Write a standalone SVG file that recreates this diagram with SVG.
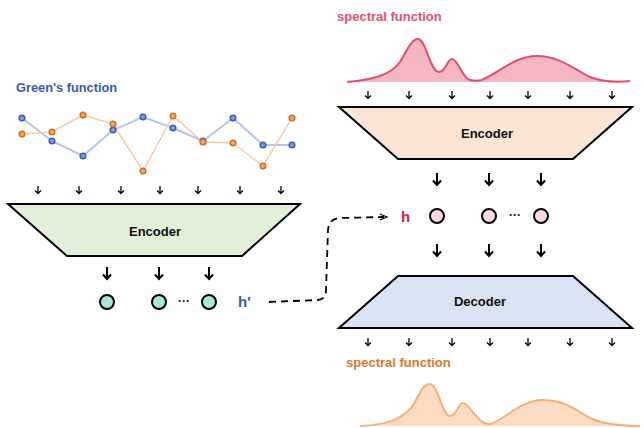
<svg xmlns="http://www.w3.org/2000/svg" width="644" height="428" viewBox="0 0 644 428">
<style>
text{font-family:"Liberation Sans",Arial,sans-serif;font-weight:bold}
.lbl{font-size:13px;fill:#111;text-anchor:middle}
.trap{stroke:#000;stroke-width:2;stroke-linejoin:miter}
.sa{fill:none;stroke:#000;stroke-width:1.3}
.ba{fill:none;stroke:#000;stroke-width:2}
.node{stroke:#000;stroke-width:2}
.bp{fill:#7f9ddc;stroke:#3b5ea8;stroke-width:1.5}
.op{fill:#f0a868;stroke:#d0701f;stroke-width:1.5}
</style>
<defs>
<path id="sa" d="M0,-4V3.5M-3,0.5L0,3.5L3,0.5"/>
<path id="ba" d="M0,-6V6M-4,1.5L0,6L4,1.5"/>
</defs>
<rect width="644" height="428" fill="#fff"/>

<!-- Green's function plot -->
<g id="greens">
<text x="16" y="92" font-size="12.8" fill="#3a5ca8">Green's function</text>
<polyline fill="none" stroke="#b3c6ec" stroke-width="2" points="22,118 52,141 83,156 113,130 143,117 173,128 203,141 233,118 263,145 292,145"/>
<polyline fill="none" stroke="#f8cba4" stroke-width="1.5" points="22,134 52,132 83,115 113,124 143,171 173,116 203,142 233,143 263,166 292,118"/>
<g class="bp">
<circle cx="22" cy="118" r="2.8"/><circle cx="52" cy="141" r="2.8"/><circle cx="83" cy="156" r="2.8"/><circle cx="113" cy="130" r="2.8"/><circle cx="143" cy="117" r="2.8"/><circle cx="173" cy="128" r="2.8"/><circle cx="203" cy="141" r="2.8"/><circle cx="233" cy="118" r="2.8"/><circle cx="263" cy="145" r="2.8"/><circle cx="292" cy="145" r="2.8"/>
</g>
<g class="op">
<circle cx="22" cy="134" r="2.8"/><circle cx="52" cy="132" r="2.8"/><circle cx="83" cy="115" r="2.8"/><circle cx="113" cy="124" r="2.8"/><circle cx="143" cy="171" r="2.8"/><circle cx="173" cy="116" r="2.8"/><circle cx="203" cy="142" r="2.8"/><circle cx="233" cy="143" r="2.8"/><circle cx="263" cy="166" r="2.8"/><circle cx="292" cy="118" r="2.8"/>
</g>
</g>

<!-- Left encoder -->
<g id="encoder-left">
<polygon class="trap" fill="#e2efd9" points="8,204 300,204 242,256 67,256"/>
<text class="lbl" x="155" y="236">Encoder</text>
</g>

<g id="latent-left">
<circle class="node" fill="#a8e6dc" cx="107" cy="302" r="7"/>
<circle class="node" fill="#a8e6dc" cx="159" cy="302" r="7"/>
<circle class="node" fill="#a8e6dc" cx="209" cy="302" r="7"/>
<text x="184" y="305" font-size="12" fill="#111" text-anchor="middle">···</text>
<text x="238" y="307" font-size="15" fill="#3a5ca8">h'</text>
</g>

<!-- Right top spectral function -->
<g id="spectral-top">
<text x="337" y="21" font-size="13" fill="#e8506a">spectral function</text>
<path d="M347,82 C370,80 390,76 400,62 C408,48 412,39 418,39 C426,39 430,72 439,72 C446,72 447,59 452,59 C458,59 462,78 470,80 C474,81 478,81 482,80 C500,72 515,56 537,56 C560,56 575,70 590,77 C605,83 620,82 630,81 L630,82 L347,82 Z" fill="#f4b6c0" stroke="none"/>
<path d="M347,82 C370,80 390,76 400,62 C408,48 412,39 418,39 C426,39 430,72 439,72 C446,72 447,59 452,59 C458,59 462,78 470,80 C474,81 478,81 482,80 C500,72 515,56 537,56 C560,56 575,70 590,77 C605,83 620,82 630,81" fill="none" stroke="#e0506a" stroke-width="2"/>
</g>

<g id="encoder-right">
<polygon class="trap" fill="#fce4d6" points="339,107 632,107 573,159 398,159"/>
<text class="lbl" x="487" y="138">Encoder</text>
</g>

<g id="latent-right">
<text x="401" y="222" font-size="15" fill="#d0223f">h</text>
<circle class="node" fill="#f9d9de" cx="437" cy="216" r="7"/>
<circle class="node" fill="#f9d9de" cx="489" cy="216" r="7"/>
<circle class="node" fill="#f9d9de" cx="541" cy="216" r="7"/>
<text x="515" y="219" font-size="12" fill="#111" text-anchor="middle">···</text>
</g>

<g id="decoder">
<polygon class="trap" fill="#dae3f3" points="398,276 573,276 632,328 339,328"/>
<text class="lbl" x="480" y="306">Decoder</text>
</g>

<g id="spectral-bottom">
<text x="346" y="367" font-size="13" fill="#d9782d">spectral function</text>
<path d="M360,426 C385,425 405,420 415,402 C422,388 425,384 430,384 C438,384 442,416 450,416 C457,416 458,403 463,403 C470,403 476,424 490,424 C505,420 520,400 543,400 C565,400 575,410 590,418 C605,425 625,426 640,426 Z" fill="#fbdcc3" stroke="none"/>
<path d="M360,426 C385,425 405,420 415,402 C422,388 425,384 430,384 C438,384 442,416 450,416 C457,416 458,403 463,403 C470,403 476,424 490,424 C505,420 520,400 543,400 C565,400 575,410 590,418 C605,425 625,426 640,426" fill="none" stroke="#f5b07a" stroke-width="2"/>
</g>

<g id="connectors">
<g class="sa">
<use href="#sa" x="38" y="190"/><use href="#sa" x="79" y="190"/><use href="#sa" x="121" y="190"/><use href="#sa" x="160" y="190"/><use href="#sa" x="198" y="190"/><use href="#sa" x="240" y="190"/><use href="#sa" x="281" y="190"/>
<use href="#sa" x="368" y="95"/><use href="#sa" x="409" y="95"/><use href="#sa" x="452" y="95"/><use href="#sa" x="490" y="95"/><use href="#sa" x="528" y="95"/><use href="#sa" x="570" y="95"/><use href="#sa" x="612" y="95"/>
<use href="#sa" x="368" y="342"/><use href="#sa" x="409" y="342"/><use href="#sa" x="452" y="342"/><use href="#sa" x="490" y="342"/><use href="#sa" x="528" y="342"/><use href="#sa" x="570" y="342"/><use href="#sa" x="612" y="342"/>
</g>
<g class="ba">
<use href="#ba" x="107" y="273"/><use href="#ba" x="159" y="273"/><use href="#ba" x="209" y="273"/>
<use href="#ba" x="437" y="179"/><use href="#ba" x="489" y="179"/><use href="#ba" x="541" y="179"/>
<use href="#ba" x="437" y="250"/><use href="#ba" x="489" y="250"/><use href="#ba" x="541" y="250"/>
</g>
<path d="M269,302 L318,300 Q326,299 326,290 L328,230 Q329,218 341,218 L384,217" fill="none" stroke="#000" stroke-width="1.8" stroke-dasharray="7,5"/>
<path d="M380,214 L387,217 L380,220" fill="none" stroke="#000" stroke-width="1.2"/>
</g>
</svg>
